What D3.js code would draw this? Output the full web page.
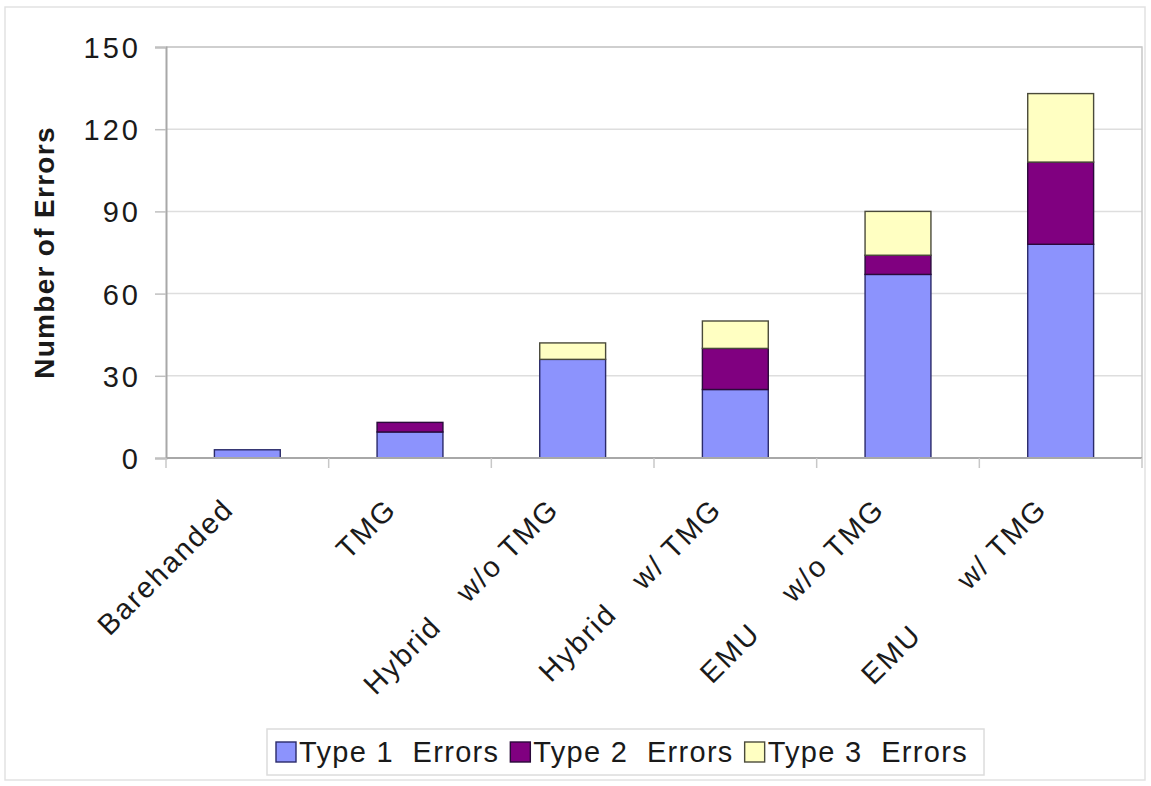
<!DOCTYPE html>
<html>
<head>
<meta charset="utf-8">
<script src="https://cdn.jsdelivr.net/npm/d3@7"></script>
<style>
  html, body { margin: 0; padding: 0; background: #fff; }
  svg { display: block; }
  text { font-family: "Liberation Sans", Arial, Helvetica, sans-serif; fill: #1a1a1a; }
</style>
</head>
<body>
<svg id="chart" width="1151" height="786"></svg>
<script>
// ---- data ----
const categoriesA = ["", "", "Hybrid", "Hybrid", "EMU", "EMU"];
const categoriesB = ["Barehanded", "TMG", "w/o TMG", "w/ TMG", "w/o TMG", "w/ TMG"];
const seriesNames = ["Type 1 Errors", "Type 2 Errors", "Type 3 Errors"];
const type1 = [3, 9.5, 36, 25, 67, 78];
const type2 = [0, 3.5, 0, 15, 7, 30];
const type3 = [0, 0, 6, 10, 16, 25];
const yTicks = [0, 30, 60, 90, 120, 150];
const colors = ["#8c93fd", "#800080", "#ffffc2"];

// ---- layout ----
const svg = d3.select("#chart");
const L = 166, R = 1142, T = 47, B = 458;
// distance (along the rotated text) from label anchor back to start of the first word
const prefixDist = [0, 0, 262, 244, 246, 248];

svg.append("rect").attr("x", 5).attr("y", 7).attr("width", 1140).attr("height", 773)
  .attr("fill", "none").attr("stroke", "#e2e2e2").attr("stroke-width", 1.5);

const keys = categoriesB.map((d, i) => i);
const x = d3.scaleBand().domain(keys).range([L, R]).paddingInner(0.595).paddingOuter(0.2975);
const y = d3.scaleLinear().domain([0, 150]).range([B, T]);

// gridlines
svg.append("g").selectAll("line").data(yTicks.filter(d => d > 0)).join("line")
  .attr("x1", L).attr("x2", R).attr("y1", d => y(d)).attr("y2", d => y(d))
  .attr("stroke", "#dedede").attr("stroke-width", 1.5);

// plot frame (top & right)
svg.append("path").attr("d", `M${L},${T}H${R}V${B}`).attr("fill", "none")
  .attr("stroke", "#c8c8c8").attr("stroke-width", 1.5);

// y axis
const yAxis = d3.axisLeft(y).tickValues(yTicks).tickSize(11).tickPadding(14);
const gy = svg.append("g").attr("transform", `translate(${L},0)`).call(yAxis);
gy.select(".domain").attr("stroke", "#a8a8a8").attr("stroke-width", 2);
gy.selectAll(".tick line").attr("stroke", "#c0c0c0").attr("stroke-width", 1.5);
gy.selectAll(".tick text").style("font-size", "29px").style("letter-spacing", "3px")
  .attr("fill", "#1a1a1a").attr("dy", "0.36em");

// stacked bars
const rows = keys.map(i => ({ i, a: type1[i], b: type2[i], c: type3[i] }));
const stack = d3.stack().keys(["a", "b", "c"])(rows);
const strokes = ["#2a2a6a", "#2a0a3a", "#4a4a3a"];
stack.forEach((layer, li) => {
  svg.append("g").selectAll("rect").data(layer.filter(d => d[1] - d[0] > 0)).join("rect")
    .attr("x", d => x(d.data.i))
    .attr("width", x.bandwidth())
    .attr("y", d => y(d[1]))
    .attr("height", d => y(d[0]) - y(d[1]))
    .attr("fill", colors[li])
    .attr("stroke", strokes[li]).attr("stroke-width", 1.4);
});

// x axis line & ticks at band boundaries
svg.append("line").attr("x1", L).attr("x2", R).attr("y1", B).attr("y2", B)
  .attr("stroke", "#a8a8a8").attr("stroke-width", 2);
const step = x.step();
const bounds = d3.range(0, keys.length + 1).map(k => L + k * step);
svg.append("g").selectAll("line").data(bounds).join("line")
  .attr("x1", d => d).attr("x2", d => d).attr("y1", B).attr("y2", B + 10)
  .attr("stroke", "#c8c8c8").attr("stroke-width", 1.5);

// x labels (rotated)
const labG = svg.append("g").selectAll("g").data(keys).join("g")
  .attr("transform", i => `translate(${x(i) + x.bandwidth() / 2 - 12},${B + 53}) rotate(-45)`);
labG.append("text").attr("text-anchor", "end")
  .style("font-size", "29px").style("letter-spacing", "2px")
  .text(i => categoriesB[i]);
labG.filter(i => categoriesA[i]).append("text").attr("text-anchor", "start")
  .attr("x", i => -prefixDist[i])
  .style("font-size", "29px").style("letter-spacing", "2px")
  .text(i => categoriesA[i]);

// y title
svg.append("text")
  .attr("transform", `translate(54,${(T + B) / 2}) rotate(-90)`)
  .attr("text-anchor", "middle")
  .style("font-size", "28px").style("font-weight", "bold").style("letter-spacing", "1.3px")
  .text("Number of Errors");

// legend
const lg = svg.append("g");
lg.append("rect").attr("x", 267).attr("y", 729).attr("width", 717).attr("height", 46)
  .attr("fill", "#fff").attr("stroke", "#dcdcdc").attr("stroke-width", 1.5);
let lx = 276;
seriesNames.forEach((name, k) => {
  lg.append("rect").attr("x", lx).attr("y", 742).attr("width", 20).attr("height", 20)
    .attr("fill", colors[k]).attr("stroke", strokes[k]).attr("stroke-width", 1.4);
  const t = lg.append("text").attr("x", lx + 23).attr("y", 762)
    .style("font-size", "29px").style("letter-spacing", "1.3px")
    .attr("xml:space", "preserve")
    .text(name.replace(/ (\S+)$/, "  $1"));
  lx = lx + 23 + t.node().getComputedTextLength() + 11;
});
</script>
</body>
</html>
